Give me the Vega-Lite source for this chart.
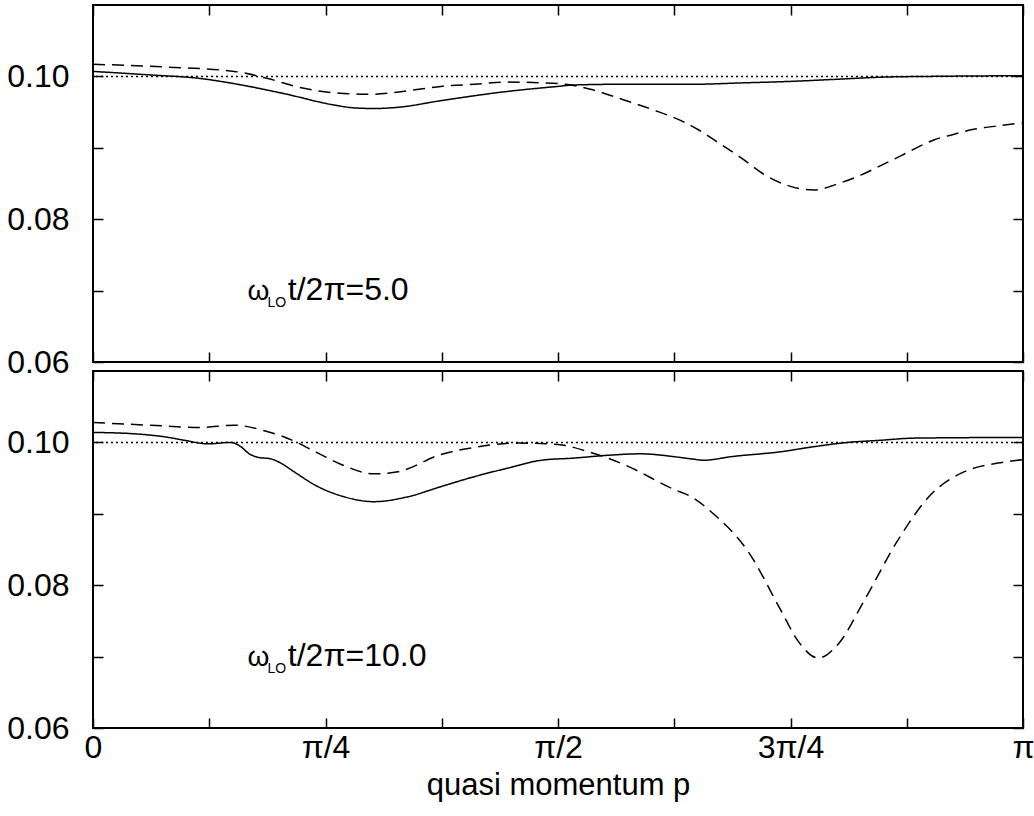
{
  "$schema": "https://vega.github.io/schema/vega-lite/v6.json",
  "padding": {"left": 5, "top": 3, "right": 5, "bottom": 5},
  "background": "white",
  "spacing": 9,
  "bounds": "flush",
  "config": {
    "font": "Liberation Sans",
    "view": {"stroke": "black", "strokeWidth": 2},
    "axis": {
      "domain": false,
      "grid": false,
      "tickColor": "black",
      "tickWidth": 1.5,
      "tickSize": -10,
      "labelFont": "Liberation Sans",
      "labelFontSize": 32,
      "labelColor": "black",
      "labelFlush": false,
      "labelOverlap": false,
      "titleFont": "Liberation Sans",
      "titleFontSize": 31,
      "titleFontWeight": "normal",
      "titleColor": "black"
    }
  },
  "datasets": {
    "curves": [
      {"panel": "5.0", "series": "solid", "p": 0, "v": 0.1007},
      {"panel": "5.0", "series": "solid", "p": 0.062, "v": 0.1002},
      {"panel": "5.0", "series": "solid", "p": 0.116, "v": 0.0997},
      {"panel": "5.0", "series": "solid", "p": 0.151, "v": 0.0990},
      {"panel": "5.0", "series": "solid", "p": 0.205, "v": 0.0976},
      {"panel": "5.0", "series": "solid", "p": 0.259, "v": 0.0960},
      {"panel": "5.0", "series": "solid", "p": 0.28, "v": 0.0956},
      {"panel": "5.0", "series": "solid", "p": 0.302, "v": 0.0955},
      {"panel": "5.0", "series": "solid", "p": 0.33, "v": 0.0957},
      {"panel": "5.0", "series": "solid", "p": 0.374, "v": 0.0966},
      {"panel": "5.0", "series": "solid", "p": 0.446, "v": 0.0979},
      {"panel": "5.0", "series": "solid", "p": 0.5, "v": 0.0986},
      {"panel": "5.0", "series": "solid", "p": 0.517, "v": 0.0988},
      {"panel": "5.0", "series": "solid", "p": 0.57, "v": 0.0989},
      {"panel": "5.0", "series": "solid", "p": 0.645, "v": 0.0989},
      {"panel": "5.0", "series": "solid", "p": 0.7, "v": 0.0991},
      {"panel": "5.0", "series": "solid", "p": 0.75, "v": 0.0993},
      {"panel": "5.0", "series": "solid", "p": 0.8, "v": 0.0996},
      {"panel": "5.0", "series": "solid", "p": 0.85, "v": 0.0999},
      {"panel": "5.0", "series": "solid", "p": 0.9, "v": 0.1000},
      {"panel": "5.0", "series": "solid", "p": 1.0, "v": 0.1001},

      {"panel": "5.0", "series": "dashed", "p": 0, "v": 0.1017},
      {"panel": "5.0", "series": "dashed", "p": 0.08, "v": 0.1013},
      {"panel": "5.0", "series": "dashed", "p": 0.152, "v": 0.1007},
      {"panel": "5.0", "series": "dashed", "p": 0.188, "v": 0.0997},
      {"panel": "5.0", "series": "dashed", "p": 0.224, "v": 0.0984},
      {"panel": "5.0", "series": "dashed", "p": 0.26, "v": 0.0977},
      {"panel": "5.0", "series": "dashed", "p": 0.3, "v": 0.0975},
      {"panel": "5.0", "series": "dashed", "p": 0.339, "v": 0.0980},
      {"panel": "5.0", "series": "dashed", "p": 0.374, "v": 0.0986},
      {"panel": "5.0", "series": "dashed", "p": 0.41, "v": 0.0989},
      {"panel": "5.0", "series": "dashed", "p": 0.446, "v": 0.0992},
      {"panel": "5.0", "series": "dashed", "p": 0.482, "v": 0.0991},
      {"panel": "5.0", "series": "dashed", "p": 0.514, "v": 0.0988},
      {"panel": "5.0", "series": "dashed", "p": 0.535, "v": 0.0982},
      {"panel": "5.0", "series": "dashed", "p": 0.571, "v": 0.0967},
      {"panel": "5.0", "series": "dashed", "p": 0.607, "v": 0.0951},
      {"panel": "5.0", "series": "dashed", "p": 0.634, "v": 0.0937},
      {"panel": "5.0", "series": "dashed", "p": 0.65, "v": 0.0926},
      {"panel": "5.0", "series": "dashed", "p": 0.668, "v": 0.0911},
      {"panel": "5.0", "series": "dashed", "p": 0.7, "v": 0.0883},
      {"panel": "5.0", "series": "dashed", "p": 0.72, "v": 0.0864},
      {"panel": "5.0", "series": "dashed", "p": 0.75, "v": 0.0846},
      {"panel": "5.0", "series": "dashed", "p": 0.775, "v": 0.0841},
      {"panel": "5.0", "series": "dashed", "p": 0.804, "v": 0.0851},
      {"panel": "5.0", "series": "dashed", "p": 0.826, "v": 0.0862},
      {"panel": "5.0", "series": "dashed", "p": 0.847, "v": 0.0875},
      {"panel": "5.0", "series": "dashed", "p": 0.869, "v": 0.0889},
      {"panel": "5.0", "series": "dashed", "p": 0.887, "v": 0.0901},
      {"panel": "5.0", "series": "dashed", "p": 0.904, "v": 0.0911},
      {"panel": "5.0", "series": "dashed", "p": 0.926, "v": 0.0919},
      {"panel": "5.0", "series": "dashed", "p": 0.947, "v": 0.0926},
      {"panel": "5.0", "series": "dashed", "p": 0.969, "v": 0.0930},
      {"panel": "5.0", "series": "dashed", "p": 1.0, "v": 0.0935},

      {"panel": "10.0", "series": "solid", "p": 0, "v": 0.1014},
      {"panel": "10.0", "series": "solid", "p": 0.045, "v": 0.1012},
      {"panel": "10.0", "series": "solid", "p": 0.081, "v": 0.1007},
      {"panel": "10.0", "series": "solid", "p": 0.098, "v": 0.1003},
      {"panel": "10.0", "series": "solid", "p": 0.124, "v": 0.0998},
      {"panel": "10.0", "series": "solid", "p": 0.148, "v": 0.1000},
      {"panel": "10.0", "series": "solid", "p": 0.159, "v": 0.0994},
      {"panel": "10.0", "series": "solid", "p": 0.168, "v": 0.0984},
      {"panel": "10.0", "series": "solid", "p": 0.178, "v": 0.0979},
      {"panel": "10.0", "series": "solid", "p": 0.191, "v": 0.0977},
      {"panel": "10.0", "series": "solid", "p": 0.202, "v": 0.0971},
      {"panel": "10.0", "series": "solid", "p": 0.216, "v": 0.0959},
      {"panel": "10.0", "series": "solid", "p": 0.242, "v": 0.0938},
      {"panel": "10.0", "series": "solid", "p": 0.267, "v": 0.0925},
      {"panel": "10.0", "series": "solid", "p": 0.302, "v": 0.0917},
      {"panel": "10.0", "series": "solid", "p": 0.339, "v": 0.0924},
      {"panel": "10.0", "series": "solid", "p": 0.374, "v": 0.0938},
      {"panel": "10.0", "series": "solid", "p": 0.41, "v": 0.0952},
      {"panel": "10.0", "series": "solid", "p": 0.446, "v": 0.0964},
      {"panel": "10.0", "series": "solid", "p": 0.482, "v": 0.0975},
      {"panel": "10.0", "series": "solid", "p": 0.517, "v": 0.0978},
      {"panel": "10.0", "series": "solid", "p": 0.554, "v": 0.0982},
      {"panel": "10.0", "series": "solid", "p": 0.589, "v": 0.0984},
      {"panel": "10.0", "series": "solid", "p": 0.625, "v": 0.0980},
      {"panel": "10.0", "series": "solid", "p": 0.643, "v": 0.0977},
      {"panel": "10.0", "series": "solid", "p": 0.657, "v": 0.0975},
      {"panel": "10.0", "series": "solid", "p": 0.686, "v": 0.0980},
      {"panel": "10.0", "series": "solid", "p": 0.74, "v": 0.0987},
      {"panel": "10.0", "series": "solid", "p": 0.775, "v": 0.0994},
      {"panel": "10.0", "series": "solid", "p": 0.812, "v": 0.1000},
      {"panel": "10.0", "series": "solid", "p": 0.847, "v": 0.1003},
      {"panel": "10.0", "series": "solid", "p": 0.883, "v": 0.1006},
      {"panel": "10.0", "series": "solid", "p": 1.0, "v": 0.1007},

      {"panel": "10.0", "series": "dashed", "p": 0, "v": 0.1028},
      {"panel": "10.0", "series": "dashed", "p": 0.062, "v": 0.1024},
      {"panel": "10.0", "series": "dashed", "p": 0.116, "v": 0.1021},
      {"panel": "10.0", "series": "dashed", "p": 0.152, "v": 0.1024},
      {"panel": "10.0", "series": "dashed", "p": 0.188, "v": 0.1015},
      {"panel": "10.0", "series": "dashed", "p": 0.205, "v": 0.1008},
      {"panel": "10.0", "series": "dashed", "p": 0.242, "v": 0.0985},
      {"panel": "10.0", "series": "dashed", "p": 0.267, "v": 0.0969},
      {"panel": "10.0", "series": "dashed", "p": 0.302, "v": 0.0956},
      {"panel": "10.0", "series": "dashed", "p": 0.328, "v": 0.0959},
      {"panel": "10.0", "series": "dashed", "p": 0.374, "v": 0.0983},
      {"panel": "10.0", "series": "dashed", "p": 0.41, "v": 0.0993},
      {"panel": "10.0", "series": "dashed", "p": 0.457, "v": 0.0999},
      {"panel": "10.0", "series": "dashed", "p": 0.5, "v": 0.0997},
      {"panel": "10.0", "series": "dashed", "p": 0.535, "v": 0.0986},
      {"panel": "10.0", "series": "dashed", "p": 0.571, "v": 0.0969},
      {"panel": "10.0", "series": "dashed", "p": 0.625, "v": 0.0934},
      {"panel": "10.0", "series": "dashed", "p": 0.643, "v": 0.0924},
      {"panel": "10.0", "series": "dashed", "p": 0.668, "v": 0.0899},
      {"panel": "10.0", "series": "dashed", "p": 0.704, "v": 0.0848},
      {"panel": "10.0", "series": "dashed", "p": 0.74, "v": 0.0764},
      {"panel": "10.0", "series": "dashed", "p": 0.758, "v": 0.0722},
      {"panel": "10.0", "series": "dashed", "p": 0.78, "v": 0.0698},
      {"panel": "10.0", "series": "dashed", "p": 0.801, "v": 0.0717},
      {"panel": "10.0", "series": "dashed", "p": 0.829, "v": 0.0778},
      {"panel": "10.0", "series": "dashed", "p": 0.865, "v": 0.0862},
      {"panel": "10.0", "series": "dashed", "p": 0.901, "v": 0.0927},
      {"panel": "10.0", "series": "dashed", "p": 0.937, "v": 0.0959},
      {"panel": "10.0", "series": "dashed", "p": 0.973, "v": 0.0971},
      {"panel": "10.0", "series": "dashed", "p": 1.0, "v": 0.0976}
    ]
  },
  "vconcat": [
    {
      "width": 930,
      "height": 357,
      "resolve": {"axis": {"x": "independent", "y": "independent"}},
      "layer": [
        {
          "data": {"values": [{}]},
          "mark": {"type": "rule", "strokeDash": [2, 3], "strokeWidth": 1.5, "color": "black"},
          "encoding": {"y": {"datum": 0.10, "type": "quantitative", "axis": null, "scale": {"domain": [0.06, 0.11], "nice": false, "zero": false}}}
        },
        {
          "data": {"name": "curves"},
          "transform": [{"filter": "datum.panel == '5.0'"}],
          "mark": {"type": "line", "color": "black", "strokeWidth": 1.5, "interpolate": "monotone"},
          "encoding": {
            "x": {"field": "p", "type": "quantitative", "scale": {"domain": [0, 1], "nice": false, "zero": false},
                  "axis": {"orient": "bottom", "values": [0, 0.125, 0.25, 0.375, 0.5, 0.625, 0.75, 0.875, 1], "labels": false, "title": null}},
            "y": {"field": "v", "type": "quantitative", "scale": {"domain": [0.06, 0.11], "nice": false, "zero": false},
                  "axis": {"orient": "left", "values": [0.06, 0.07, 0.08, 0.09, 0.10], "labelPadding": 34, "title": null,
                           "labelExpr": "(abs(datum.value-0.07)<0.001 || abs(datum.value-0.09)<0.001) ? '' : format(datum.value, '.2f')"}},
            "strokeDash": {"field": "series", "type": "nominal", "legend": null,
                           "scale": {"domain": ["solid", "dashed"], "range": [[1, 0], [12, 7]]}},
            "detail": {"field": "series"}
          }
        },
        {
          "data": {"values": [{}]},
          "mark": {"type": "text", "text": "ω", "fontSize": 28, "align": "left", "baseline": "alphabetic", "color": "black"},
          "encoding": {"x": {"datum": 0.166, "type": "quantitative", "axis": null}, "y": {"datum": 0.0687, "type": "quantitative", "axis": null}}
        },
        {
          "data": {"values": [{}]},
          "mark": {"type": "text", "text": "LO", "fontSize": 14, "align": "left", "baseline": "alphabetic", "color": "black"},
          "encoding": {"x": {"datum": 0.1875, "type": "quantitative", "axis": null}, "y": {"datum": 0.0677, "type": "quantitative", "axis": null}}
        },
        {
          "data": {"values": [{}]},
          "mark": {"type": "text", "text": "t/2π=5.0", "fontSize": 32, "align": "left", "baseline": "alphabetic", "color": "black"},
          "encoding": {
            "x": {"datum": 0.2095, "type": "quantitative", "axis": {"orient": "top", "values": [0, 0.125, 0.25, 0.375, 0.5, 0.625, 0.75, 0.875, 1], "labels": false, "title": null}},
            "y": {"datum": 0.0687, "type": "quantitative", "axis": {"orient": "right", "values": [0.06, 0.07, 0.08, 0.09, 0.10], "labels": false, "title": null}}
          }
        }
      ]
    },
    {
      "width": 930,
      "height": 357,
      "resolve": {"axis": {"x": "independent", "y": "independent"}},
      "layer": [
        {
          "data": {"values": [{}]},
          "mark": {"type": "rule", "strokeDash": [2, 3], "strokeWidth": 1.5, "color": "black"},
          "encoding": {"y": {"datum": 0.10, "type": "quantitative", "axis": null, "scale": {"domain": [0.06, 0.11], "nice": false, "zero": false}}}
        },
        {
          "data": {"name": "curves"},
          "transform": [{"filter": "datum.panel == '10.0'"}],
          "mark": {"type": "line", "color": "black", "strokeWidth": 1.5, "interpolate": "monotone"},
          "encoding": {
            "x": {"field": "p", "type": "quantitative", "scale": {"domain": [0, 1], "nice": false, "zero": false},
                  "axis": {"orient": "bottom", "values": [0, 0.125, 0.25, 0.375, 0.5, 0.625, 0.75, 0.875, 1], "labelPadding": 14,
                           "labelExpr": "datum.value == 0 ? '0' : datum.value == 0.25 ? 'π/4' : datum.value == 0.5 ? 'π/2' : datum.value == 0.75 ? '3π/4' : datum.value == 1 ? 'π' : ''",
                           "title": "quasi momentum p", "titleY": 66, "titleBaseline": "alphabetic"}},
            "y": {"field": "v", "type": "quantitative", "scale": {"domain": [0.06, 0.11], "nice": false, "zero": false},
                  "axis": {"orient": "left", "values": [0.06, 0.07, 0.08, 0.09, 0.10], "labelPadding": 34, "title": null,
                           "labelExpr": "(abs(datum.value-0.07)<0.001 || abs(datum.value-0.09)<0.001) ? '' : format(datum.value, '.2f')"}},
            "strokeDash": {"field": "series", "type": "nominal", "legend": null,
                           "scale": {"domain": ["solid", "dashed"], "range": [[1, 0], [12, 7]]}},
            "detail": {"field": "series"}
          }
        },
        {
          "data": {"values": [{}]},
          "mark": {"type": "text", "text": "ω", "fontSize": 28, "align": "left", "baseline": "alphabetic", "color": "black"},
          "encoding": {"x": {"datum": 0.166, "type": "quantitative", "axis": null}, "y": {"datum": 0.0687, "type": "quantitative", "axis": null}}
        },
        {
          "data": {"values": [{}]},
          "mark": {"type": "text", "text": "LO", "fontSize": 14, "align": "left", "baseline": "alphabetic", "color": "black"},
          "encoding": {"x": {"datum": 0.1875, "type": "quantitative", "axis": null}, "y": {"datum": 0.0677, "type": "quantitative", "axis": null}}
        },
        {
          "data": {"values": [{}]},
          "mark": {"type": "text", "text": "t/2π=10.0", "fontSize": 32, "align": "left", "baseline": "alphabetic", "color": "black"},
          "encoding": {
            "x": {"datum": 0.2095, "type": "quantitative", "axis": {"orient": "top", "values": [0, 0.125, 0.25, 0.375, 0.5, 0.625, 0.75, 0.875, 1], "labels": false, "title": null}},
            "y": {"datum": 0.0687, "type": "quantitative", "axis": {"orient": "right", "values": [0.06, 0.07, 0.08, 0.09, 0.10], "labels": false, "title": null}}
          }
        }
      ]
    }
  ]
}
